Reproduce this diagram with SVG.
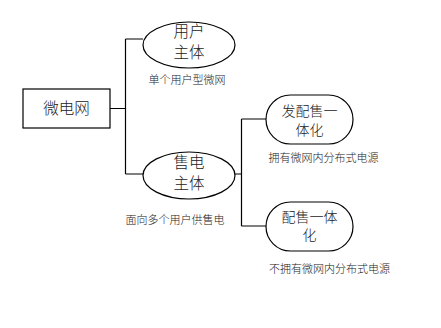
<svg xmlns="http://www.w3.org/2000/svg" width="441" height="328" viewBox="0 0 441 328">
<style>
.shape{fill:#fff;stroke:#000;stroke-width:1.2}
.conn{fill:none;stroke:#000;stroke-width:1.2}
text{font-family:"Noto Sans CJK SC","Noto Sans",sans-serif;fill:#222;text-anchor:middle;font-weight:300}
.big{font-size:15.5px}
.mid{font-size:14px}
.lab{font-size:11px}
</style>
<rect width="441" height="328" fill="#fff"/>
<g id="connectors">
<path class="conn" d="M110,108.5 H125.5 M125.5,39 V174 M125.5,39 H143 M125.5,174 H143"/>
<path class="conn" d="M235,174 H241.5 M241.5,119 V226 M241.5,119 H266 M241.5,226 H266"/>
</g>
<g id="node-weidianwang">
<rect class="shape" x="23" y="89" width="87" height="39"/>
<text class="big" x="66.5" y="114">微电网</text>
</g>
<g id="node-yonghu">
<ellipse class="shape" cx="189" cy="45" rx="46" ry="23"/>
<text class="big" x="189" y="37">用户<tspan x="189" dy="20.5">主体</tspan></text>
<text class="lab" x="187" y="84">单个用户型微网</text>
</g>
<g id="node-shoudian">
<ellipse class="shape" cx="189" cy="175.5" rx="46" ry="23.5"/>
<text class="big" x="189" y="168">售电<tspan x="189" dy="20.5">主体</tspan></text>
<text class="lab" x="175" y="224">面向多个用户供售电</text>
</g>
<g id="node-fapeishou">
<rect class="shape" x="266" y="95" width="87" height="49" rx="24.5" ry="24.5"/>
<text class="mid" x="309.5" y="116">发配售一<tspan x="309.5" dy="18.5">体化</tspan></text>
<text class="lab" x="323.5" y="162">拥有微网内分布式电源</text>
</g>
<g id="node-peishou">
<rect class="shape" x="266" y="202" width="87" height="49" rx="24.5" ry="24.5"/>
<text class="mid" x="309.5" y="221.5">配售一体<tspan x="309.5" dy="18.5">化</tspan></text>
<text class="lab" x="329.5" y="273">不拥有微网内分布式电源</text>
</g>
</svg>
